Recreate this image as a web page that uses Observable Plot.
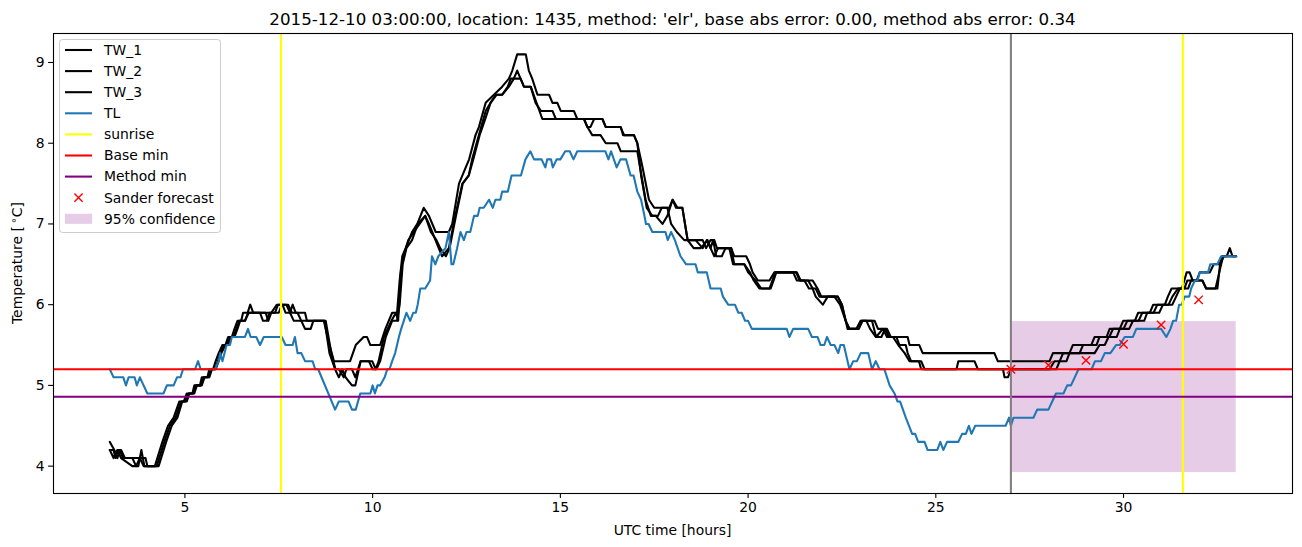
<!DOCTYPE html>
<html>
<head>
<meta charset="utf-8">
<script src="https://cdn.jsdelivr.net/npm/d3@7"></script>
<script src="https://cdn.jsdelivr.net/npm/@observablehq/plot@0.6"></script>
<style>
  html, body { margin: 0; padding: 0; background: #fff; }
  svg { font-family: "DejaVu Sans", sans-serif; }
</style>
</head>
<body>
<div id="chart"></div>
<script>
// ---- data (hour, temperature) ----
const TW_1 = [[3.0,4.3],[3.12,4.2],[3.2,4.1],[3.27,4.2],[3.35,4.1],[3.6,4.1],[3.7,4.0],[3.76,4.0],[3.84,4.2],[3.92,4.0],[4.2,4.0],[4.4,4.3],[4.55,4.5],[4.7,4.6],[4.85,4.8],[4.97,4.8],[5.05,4.9],[5.2,4.9],[5.25,5.0],[5.4,5.0],[5.45,5.1],[5.6,5.1],[5.65,5.2],[5.75,5.2],[5.82,5.3],[5.9,5.4],[6.0,5.5],[6.08,5.5],[6.15,5.6],[6.25,5.6],[6.32,5.7],[6.4,5.8],[6.5,5.8],[6.55,5.9],[6.67,5.9],[6.74,6.0],[6.82,5.9],[7.4,5.9],[7.48,6.0],[7.7,6.0],[7.8,5.9],[7.87,6.0],[7.95,5.9],[8.2,5.9],[8.25,5.8],[8.7,5.8],[8.85,5.5],[8.97,5.3],[9.4,5.3],[9.55,5.5],[9.76,5.6],[9.85,5.6],[9.94,5.5],[10.2,5.5],[10.34,5.7],[10.52,5.9],[10.65,5.9],[10.72,6.3],[10.79,6.6],[10.88,6.7],[11.05,6.9],[11.19,7.0],[11.36,7.2],[11.5,7.1],[11.68,6.9],[12.03,6.9],[12.12,7.0],[12.3,7.5],[12.48,7.7],[12.57,7.8],[12.74,8.1],[12.83,8.2],[13.01,8.5],[13.23,8.6],[13.45,8.7],[13.63,8.8],[13.72,8.9],[13.85,9.1],[14.08,9.1],[14.16,8.9],[14.25,8.8],[14.39,8.6],[14.7,8.6],[14.79,8.5],[14.92,8.5],[15.01,8.4],[15.36,8.4],[15.45,8.3],[16.12,8.3],[16.21,8.2],[16.61,8.2],[16.67,8.1],[16.96,8.1],[17.05,8.0],[17.19,7.7],[17.36,7.3],[17.5,7.2],[17.9,7.2],[17.99,7.3],[18.08,7.2],[18.25,7.2],[18.39,6.8],[18.79,6.8],[18.88,6.7],[19.0,6.8],[19.1,6.8],[19.17,6.7],[19.55,6.7],[19.63,6.6],[19.95,6.6],[20.05,6.5],[20.12,6.4],[20.26,6.3],[20.57,6.3],[20.7,6.4],[21.28,6.4],[21.37,6.3],[21.72,6.3],[21.85,6.2],[21.95,6.1],[22.39,6.1],[22.5,6.0],[22.6,5.8],[22.7,5.7],[22.88,5.7],[23.0,5.8],[23.37,5.8],[23.46,5.7],[23.7,5.7],[23.8,5.6],[24.25,5.6],[24.3,5.5],[24.56,5.5],[24.65,5.4],[26.56,5.4],[26.65,5.3],[28.03,5.3],[28.12,5.4],[28.56,5.4],[28.65,5.5],[29.14,5.5],[29.23,5.6],[29.55,5.6],[29.63,5.7],[29.9,5.7],[29.99,5.8],[30.3,5.8],[30.39,5.9],[30.7,5.9],[30.79,6.0],[31.1,6.0],[31.18,6.1],[31.28,6.2],[31.55,6.2],[31.62,6.3],[31.68,6.4],[31.76,6.4],[31.84,6.3],[31.95,6.3],[32.03,6.4],[32.3,6.4],[32.4,6.5],[32.55,6.5],[32.62,6.6],[32.75,6.6],[32.83,6.7],[32.9,6.6],[33.0,6.6]];

const TW_2 = [[3.0,4.2],[3.1,4.2],[3.15,4.1],[3.22,4.2],[3.3,4.2],[3.4,4.1],[3.8,4.1],[3.9,4.0],[4.25,4.0],[4.45,4.3],[4.6,4.5],[4.75,4.6],[4.9,4.8],[5.0,4.8],[5.1,4.9],[5.22,4.9],[5.3,5.0],[5.42,5.0],[5.5,5.1],[5.62,5.1],[5.7,5.2],[5.8,5.2],[5.88,5.3],[5.95,5.4],[6.05,5.5],[6.12,5.5],[6.2,5.6],[6.3,5.6],[6.37,5.7],[6.45,5.8],[6.6,5.8],[6.7,5.9],[7.15,5.9],[7.22,5.8],[7.3,5.9],[7.45,6.0],[7.6,6.0],[7.68,5.9],[7.8,5.9],[7.9,5.8],[8.1,5.8],[8.2,5.7],[8.35,5.7],[8.42,5.8],[8.72,5.8],[8.85,5.4],[9.0,5.2],[9.1,5.1],[9.19,5.2],[9.28,5.1],[9.45,5.0],[9.54,5.0],[9.68,5.3],[9.99,5.3],[10.08,5.2],[10.16,5.3],[10.3,5.6],[10.5,5.8],[10.62,5.9],[10.68,5.8],[10.75,6.4],[10.82,6.6],[10.95,6.8],[11.1,6.9],[11.25,7.0],[11.4,7.1],[11.5,7.0],[11.76,6.7],[11.85,6.6],[12.03,6.7],[12.2,7.1],[12.39,7.5],[12.56,7.6],[12.65,7.8],[12.83,8.1],[13.01,8.4],[13.14,8.5],[13.28,8.6],[13.45,8.6],[13.63,8.7],[13.76,8.8],[13.85,8.9],[13.94,8.8],[14.03,8.7],[14.21,8.7],[14.34,8.5],[14.48,8.4],[14.79,8.4],[14.88,8.3],[15.63,8.3],[15.72,8.2],[15.8,8.2],[15.9,8.3],[16.12,8.3],[16.21,8.2],[16.6,8.2],[16.7,8.1],[16.96,8.1],[17.05,8.0],[17.15,7.6],[17.3,7.2],[17.45,7.1],[17.6,7.1],[17.7,7.2],[17.85,7.2],[17.95,7.0],[18.1,6.9],[18.3,6.8],[18.6,6.8],[18.79,6.7],[18.9,6.8],[19.0,6.7],[19.1,6.6],[19.2,6.7],[19.55,6.7],[19.63,6.5],[19.9,6.5],[20.05,6.4],[20.15,6.3],[20.3,6.2],[20.57,6.2],[20.65,6.3],[20.72,6.4],[21.2,6.4],[21.3,6.3],[21.5,6.3],[21.62,6.2],[21.8,6.2],[21.9,6.1],[22.3,6.1],[22.45,6.0],[22.6,5.8],[22.7,5.7],[22.95,5.7],[23.05,5.8],[23.3,5.8],[23.41,5.6],[23.59,5.7],[23.7,5.6],[23.95,5.6],[24.03,5.5],[24.2,5.5],[24.25,5.4],[24.34,5.3],[24.61,5.3],[24.7,5.2],[25.55,5.2],[25.6,5.3],[26.03,5.3],[26.12,5.2],[28.03,5.2],[28.16,5.3],[28.3,5.3],[28.39,5.4],[28.83,5.4],[28.92,5.5],[29.28,5.5],[29.36,5.6],[29.62,5.6],[29.72,5.7],[30.0,5.7],[30.1,5.8],[30.4,5.8],[30.5,5.9],[30.8,5.9],[30.9,6.0],[31.2,6.0],[31.3,6.1],[31.45,6.2],[31.62,6.2],[31.7,6.3],[32.1,6.3],[32.2,6.2],[32.5,6.2],[32.57,6.5],[32.67,6.6],[33.0,6.6]];

const TW_3 = [[3.0,4.2],[3.1,4.1],[3.2,4.2],[3.3,4.1],[3.6,4.0],[3.7,4.0],[3.8,4.1],[3.95,4.1],[4.0,4.0],[4.3,4.0],[4.5,4.3],[4.65,4.5],[4.8,4.6],[4.93,4.8],[5.05,4.8],[5.12,4.9],[5.25,4.9],[5.32,5.0],[5.45,5.0],[5.52,5.1],[5.65,5.1],[5.72,5.2],[5.82,5.2],[5.9,5.3],[5.97,5.4],[6.08,5.5],[6.15,5.5],[6.22,5.6],[6.32,5.6],[6.4,5.7],[6.47,5.8],[6.6,5.8],[6.68,5.9],[7.0,5.9],[7.08,5.8],[7.18,5.8],[7.25,5.9],[7.5,5.9],[7.58,6.0],[7.75,6.0],[7.85,5.9],[8.0,5.9],[8.1,5.8],[8.75,5.8],[8.9,5.4],[9.01,5.2],[9.1,5.2],[9.23,5.1],[9.3,5.2],[9.45,5.2],[9.54,5.1],[9.68,5.3],[9.9,5.3],[10.0,5.2],[10.1,5.2],[10.2,5.3],[10.35,5.6],[10.52,5.8],[10.65,5.8],[10.72,6.0],[10.8,6.5],[10.9,6.7],[11.05,6.8],[11.2,7.0],[11.4,7.1],[11.55,6.9],[11.7,6.8],[11.8,6.7],[11.95,6.6],[12.05,6.7],[12.22,7.1],[12.4,7.5],[12.56,7.6],[12.68,7.8],[12.85,8.1],[13.0,8.3],[13.14,8.5],[13.3,8.6],[13.45,8.6],[13.6,8.7],[13.68,8.8],[13.94,8.8],[14.03,8.7],[14.21,8.7],[14.52,8.3],[15.63,8.3],[15.72,8.2],[15.85,8.1],[16.07,8.1],[16.21,8.0],[16.52,8.0],[16.61,7.9],[17.05,7.9],[17.27,7.3],[17.41,7.1],[17.54,7.1],[17.72,7.0],[17.85,7.1],[17.99,7.3],[18.12,7.2],[18.25,7.2],[18.39,6.8],[18.55,6.7],[18.74,6.7],[18.92,6.8],[19.0,6.7],[19.07,6.8],[19.15,6.6],[19.3,6.6],[19.4,6.7],[19.5,6.7],[19.6,6.5],[19.9,6.5],[20.0,6.4],[20.2,6.3],[20.35,6.2],[20.6,6.2],[20.68,6.3],[20.75,6.4],[21.3,6.4],[21.4,6.3],[21.6,6.3],[21.72,6.2],[21.8,6.1],[21.99,6.0],[22.12,6.1],[22.39,6.1],[22.5,6.0],[22.65,5.7],[22.9,5.7],[23.0,5.8],[23.15,5.8],[23.25,5.7],[23.4,5.6],[23.55,5.6],[23.65,5.7],[23.75,5.6],[23.86,5.6],[24.0,5.5],[24.17,5.4],[24.3,5.3],[24.55,5.3],[24.61,5.2],[26.79,5.2],[26.83,5.1],[26.92,5.1],[27.01,5.2],[28.21,5.2],[28.3,5.3],[28.48,5.3],[28.56,5.4],[29.23,5.4],[29.36,5.5],[29.5,5.5],[29.6,5.6],[29.82,5.6],[29.9,5.7],[30.15,5.7],[30.25,5.8],[30.55,5.8],[30.63,5.9],[30.95,5.9],[31.05,6.0],[31.3,6.0],[31.4,6.1],[31.5,6.2],[31.72,6.2],[31.8,6.3],[32.1,6.3],[32.2,6.2],[32.45,6.2],[32.55,6.4],[32.65,6.6],[33.0,6.6]];

const TL = [[3.0,5.2],[3.1,5.1],[3.36,5.1],[3.43,5.0],[3.5,5.1],[3.66,5.1],[3.72,5.0],[3.8,5.1],[4.0,4.9],[4.43,4.9],[4.52,5.0],[4.7,5.0],[4.79,5.1],[4.88,5.1],[4.95,5.2],[5.27,5.2],[5.35,5.3],[5.42,5.2],[5.8,5.2],[5.9,5.3],[5.94,5.4],[6.0,5.3],[6.11,5.5],[6.2,5.5],[6.25,5.6],[6.6,5.6],[6.68,5.7],[6.75,5.6],[6.9,5.6],[7.0,5.5],[7.1,5.6],[7.58,5.6],[7.68,5.5],[7.87,5.5],[7.93,5.6],[8.0,5.4],[8.1,5.4],[8.2,5.3],[8.4,5.3],[8.47,5.2],[8.55,5.2],[9.0,4.7],[9.1,4.8],[9.36,4.8],[9.45,4.7],[9.55,4.7],[9.67,4.9],[9.94,4.9],[10.0,5.0],[10.06,4.9],[10.13,5.0],[10.2,5.0],[10.32,5.1],[10.39,5.2],[10.45,5.2],[10.52,5.3],[10.6,5.4],[10.7,5.6],[10.76,5.7],[10.83,5.8],[10.9,5.9],[11.0,5.8],[11.08,5.9],[11.15,5.9],[11.2,6.0],[11.27,6.2],[11.4,6.2],[11.53,6.3],[11.58,6.6],[11.67,6.5],[11.75,6.6],[11.94,6.7],[12.03,6.9],[12.1,6.5],[12.15,6.5],[12.25,6.7],[12.34,6.9],[12.43,6.8],[12.5,6.9],[12.6,6.9],[12.7,7.1],[12.8,7.1],[12.85,7.2],[12.96,7.2],[13.1,7.3],[13.2,7.2],[13.27,7.3],[13.4,7.3],[13.45,7.4],[13.6,7.4],[13.7,7.6],[13.95,7.6],[14.07,7.8],[14.2,7.9],[14.3,7.8],[14.5,7.8],[14.6,7.7],[14.65,7.8],[14.75,7.8],[14.8,7.7],[14.9,7.8],[15.0,7.8],[15.13,7.9],[15.25,7.9],[15.35,7.8],[15.45,7.9],[16.2,7.9],[16.28,7.8],[16.35,7.9],[16.5,7.7],[16.6,7.8],[16.75,7.8],[16.87,7.6],[16.95,7.6],[17.05,7.4],[17.15,7.3],[17.24,7.1],[17.28,7.0],[17.35,7.0],[17.45,6.9],[17.8,6.9],[17.86,6.8],[17.95,6.9],[18.05,6.8],[18.2,6.6],[18.35,6.5],[18.6,6.5],[18.66,6.4],[18.9,6.4],[19.0,6.2],[19.27,6.2],[19.33,6.1],[19.47,6.0],[19.65,6.0],[19.74,5.9],[19.83,5.9],[19.92,5.8],[20.0,5.8],[20.1,5.7],[21.03,5.7],[21.1,5.6],[21.2,5.7],[21.6,5.7],[21.7,5.6],[21.85,5.6],[21.93,5.5],[22.03,5.5],[22.1,5.6],[22.2,5.5],[22.3,5.5],[22.4,5.4],[22.46,5.5],[22.55,5.5],[22.65,5.3],[22.7,5.2],[22.8,5.3],[22.9,5.3],[23.0,5.4],[23.2,5.4],[23.3,5.2],[23.4,5.3],[23.5,5.2],[23.63,5.2],[23.77,5.0],[23.9,4.9],[23.98,4.8],[24.05,4.8],[24.2,4.6],[24.37,4.4],[24.45,4.4],[24.53,4.3],[24.7,4.3],[24.78,4.2],[25.04,4.2],[25.12,4.3],[25.2,4.2],[25.3,4.3],[25.6,4.3],[25.7,4.4],[25.8,4.4],[25.88,4.5],[25.95,4.4],[26.05,4.5],[26.86,4.5],[26.95,4.6],[27.0,4.5],[27.07,4.6],[27.6,4.6],[27.7,4.7],[28.0,4.7],[28.1,4.8],[28.2,4.9],[28.4,4.9],[28.5,5.0],[28.6,5.0],[28.7,5.1],[28.8,5.2],[29.15,5.2],[29.24,5.3],[29.4,5.3],[29.5,5.4],[29.65,5.4],[29.8,5.5],[29.9,5.5],[30.03,5.6],[30.25,5.6],[30.34,5.7],[31.0,5.7],[31.14,5.6],[31.25,5.7],[31.32,5.8],[31.4,5.8],[31.48,6.0],[31.55,6.0],[31.63,6.1],[31.75,6.1],[31.8,6.2],[31.9,6.3],[31.97,6.3],[32.03,6.4],[32.25,6.4],[32.31,6.5],[32.5,6.5],[32.6,6.6],[33.0,6.6]];

const sunriseHours = [7.56, 31.58];
const forecastStartHour = 27;
const baseMin = 5.2;
const methodMin = 4.86;
const forecastHours = [27, 28, 29, 30, 31, 32];
const forecastTemps = [5.2, 5.25, 5.31, 5.51, 5.75, 6.06];
const confHours = [27, 33];
const confLow = 3.92;
const confHigh = 5.79;
const xTicks = [5, 10, 15, 20, 25, 30];
const yTicks = [4, 5, 6, 7, 8, 9];
const titleText = "2015-12-10 03:00:00, location: 1435, method: 'elr', base abs error: 0.00, method abs error: 0.34";
const legendLabels = ["TW_1", "TW_2", "TW_3", "TL", "sunrise", "Base min", "Method min", "Sander forecast", "95% confidence"];

// ---- build ----
const W = 1302, H = 547;
const FS = 13.9;
const px = d => d[0], py = d => d[1];
const lineW = 2.08;

const forecast = forecastHours.map((h, i) => ({h, t: forecastTemps[i]}));
const conf = [{x1: confHours[0], x2: confHours[1], y1: confLow, y2: confHigh}];

const chart = Plot.plot({
  width: W, height: H,
  marginLeft: 53, marginRight: 10, marginTop: 33, marginBottom: 54,
  style: {fontFamily: "DejaVu Sans", fontSize: FS + "px", color: "black", background: "white"},
  x: {domain: [1.5, 34.5]},
  y: {domain: [3.661, 9.359]},
  marks: [
    Plot.rect(conf, {x1: "x1", x2: "x2", y1: "y1", y2: "y2", fill: "purple", fillOpacity: 0.2}),
    Plot.line(TW_1, {x: px, y: py, stroke: "black", strokeWidth: lineW}),
    Plot.line(TW_2, {x: px, y: py, stroke: "black", strokeWidth: lineW}),
    Plot.line(TW_3, {x: px, y: py, stroke: "black", strokeWidth: lineW}),
    Plot.line(TL, {x: px, y: py, stroke: "#1f77b4", strokeWidth: lineW}),
    Plot.ruleX(sunriseHours, {stroke: "#ffff00", strokeWidth: lineW}),
    Plot.ruleY([baseMin], {stroke: "#ff0000", strokeWidth: lineW}),
    Plot.ruleY([methodMin], {stroke: "#800080", strokeWidth: lineW}),
    Plot.ruleX([forecastStartHour], {stroke: "#808080", strokeWidth: lineW}),
    Plot.dot(forecast, {x: "h", y: "t", symbol: "times", r: 3.9, stroke: "#ff0000", strokeWidth: 1.4}),
    Plot.axisX({ticks: xTicks, tickFormat: d => String(d), tickSize: 4.9, tickPadding: 4, fontSize: FS, label: null, strokeWidth: 1.1}),
    Plot.axisY({ticks: yTicks, tickFormat: d => String(d), tickSize: 4.9, tickPadding: 4, fontSize: FS, label: null, strokeWidth: 1.1}),
    Plot.frame({stroke: "black", strokeWidth: 1.1})
  ]
});

const svg = d3.select(chart);
// title
svg.append("text").attr("x", (53 + 1292) / 2).attr("y", 25).attr("text-anchor", "middle")
  .attr("font-size", 16.7).attr("fill", "black").text(titleText);
// x label
svg.append("text").attr("x", (53 + 1292) / 2).attr("y", 535).attr("text-anchor", "middle")
  .attr("font-size", FS).attr("fill", "black").text("UTC time [hours]");
// y label
const yl = svg.append("text").attr("transform", "translate(22,263) rotate(-90)").attr("text-anchor", "middle")
  .attr("font-size", FS).attr("fill", "black");
yl.append("tspan").text("Temperature [\u2009");
yl.append("tspan").attr("font-size", 10).attr("dy", -5).text("\u2218");
yl.append("tspan").attr("dy", 5).text("C]");

// legend
const lg = svg.append("g").attr("text-anchor", "start");
lg.append("rect").attr("x", 59.5).attr("y", 39.5).attr("width", 161).attr("height", 193).attr("rx", 3)
  .attr("fill", "white").attr("fill-opacity", 0.8).attr("stroke", "#cccccc").attr("stroke-width", 1);
const colors = ["black", "black", "black", "#1f77b4", "#ffff00", "#ff0000", "#800080"];
const rowY = i => 50 + i * 21.1;
legendLabels.forEach((lab, i) => {
  const y = rowY(i);
  if (i < 7) {
    lg.append("line").attr("x1", 65).attr("x2", 92).attr("y1", y).attr("y2", y)
      .attr("stroke", colors[i]).attr("stroke-width", lineW);
  } else if (i === 7) {
    const c = 78.5, r = 4.1;
    lg.append("path").attr("d", `M${c-r},${y-r}L${c+r},${y+r}M${c-r},${y+r}L${c+r},${y-r}`)
      .attr("stroke", "#ff0000").attr("stroke-width", 1.4);
  } else {
    lg.append("rect").attr("x", 65).attr("y", y - 5).attr("width", 27).attr("height", 10)
      .attr("fill", "purple").attr("fill-opacity", 0.2);
  }
  lg.append("text").attr("x", 104).attr("y", y).attr("dy", "0.35em").attr("font-size", FS)
    .attr("text-anchor", "start").attr("fill", "black").text(lab);
});

document.getElementById("chart").appendChild(chart);
</script>
</body>
</html>
